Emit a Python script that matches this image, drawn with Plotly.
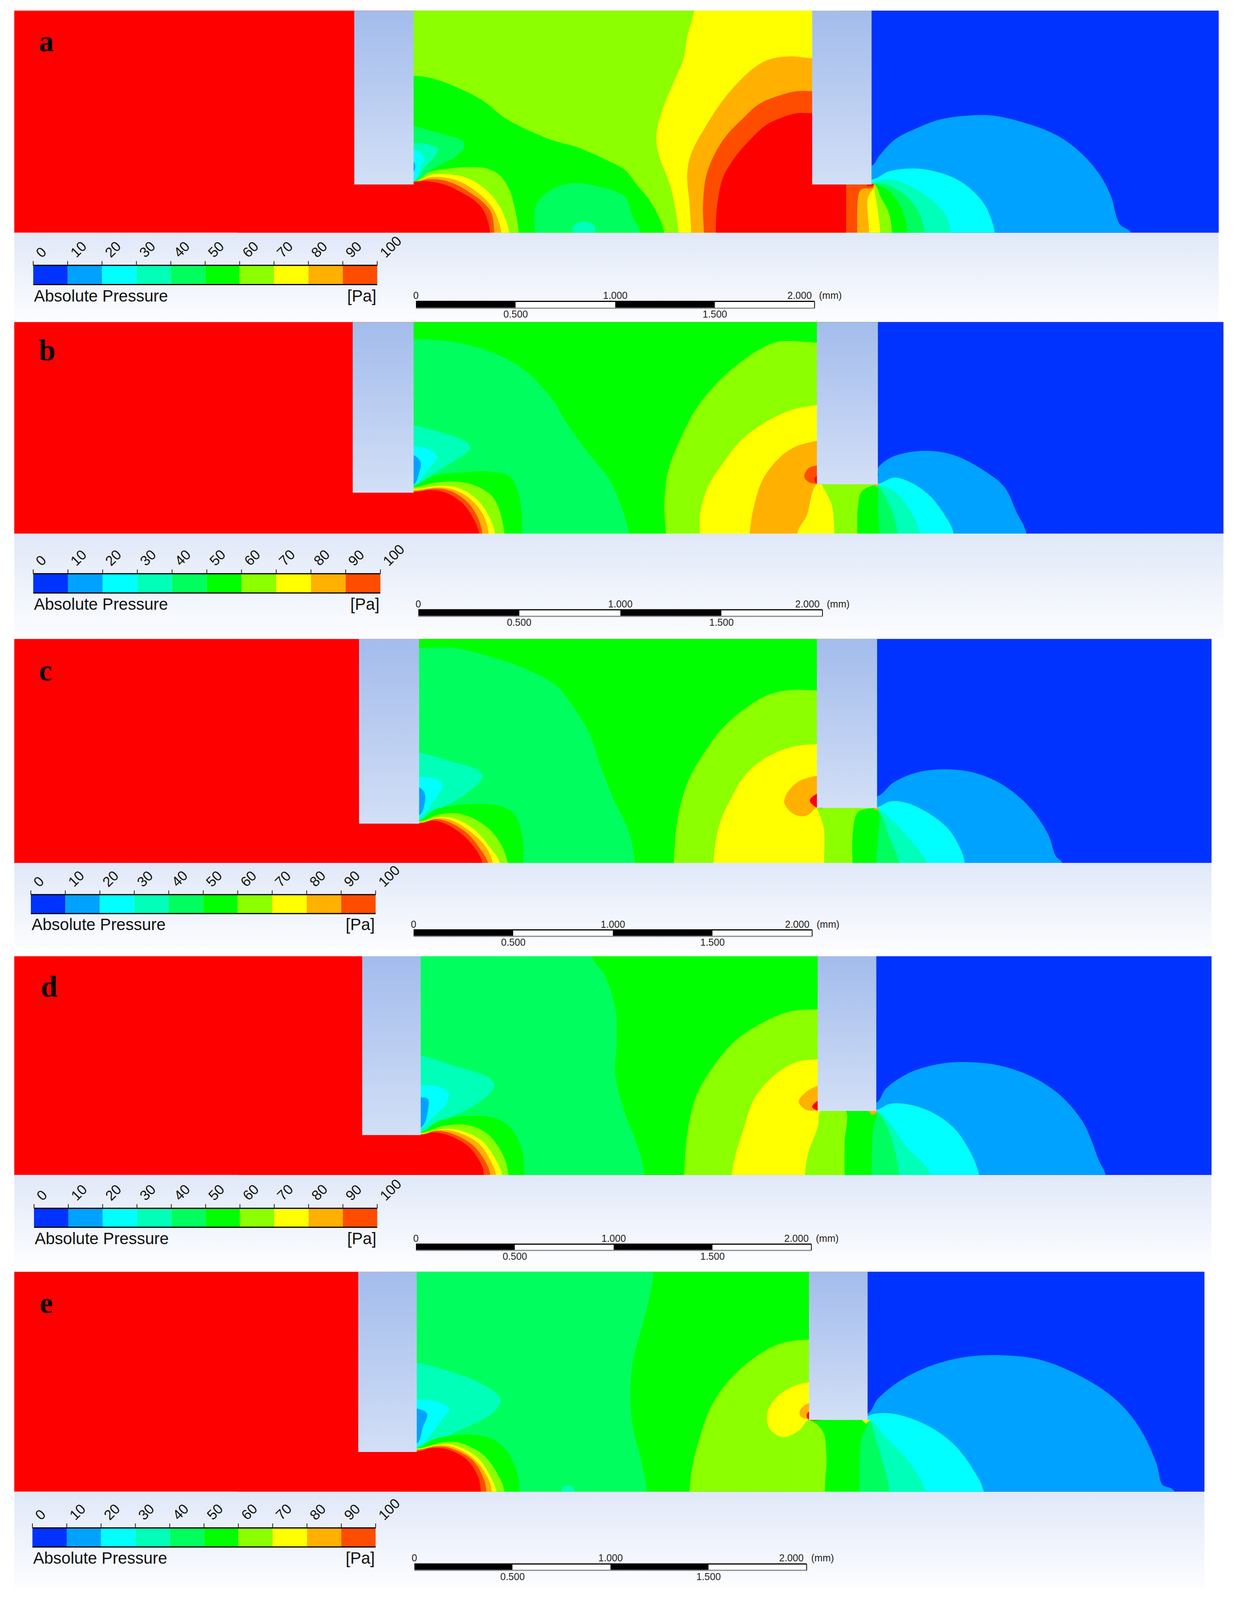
import plotly.graph_objects as go

# The browser window is capped at 3175x4096, so the 5731-tall sheet is fitted to that height.
W, H, REF_H = 3175, 4096, 5731
CROP = 1568
BAND_COLORS = ["#0033ff", "#00a2ff", "#00ffff", "#00ffb8", "#00ff5e", "#00ff00",
               "#8cff00", "#ffff00", "#ffb000", "#ff4d00", "#ff0000"]
TICK_LABELS = ["0", "10", "20", "30", "40", "50", "60", "70", "80", "90", "100"]
PANEL_LETTERS = ["a", "b", "c", "d", "e"]


def close(curve, x):
    """Region between a boundary curve and a vertical line x (hidden or overpainted)."""
    y0 = curve[0][1]
    xe = curve[-1][0]
    tail = [(x, y) for y in (1300, 1150, 1000, 850, 700, 550, 400, 250, 100) if y > y0 + 60]
    return [(x, y0)] + curve + [(xe, 1300), (xe, 1500), (x, 1500)] + tail


def wall(curve, x):
    return [(x, curve[0][1])] + curve + [(x, curve[-1][1])]


def foot(curve):
    return [(curve[0][0], 1500)] + curve + [(curve[-1][0], 1500)]


LAYERS_A = [
    (1, close([(1102,810),(1112,760),(1132,680),(1157,630),(1187,585),(1222,565),(1256,565),(1296,600),(1336,660),(1365,740),(1390,850),(1405,960),(1412,1060),(1417,1100),(1430,1136)],1060)),
    (2, close([(1103,877),(1124,837),(1149,823),(1169,827),(1198,855),(1220,900),(1240,973),(1249,1028),(1258,1137)],1060)),
    (3, close([(1103,891),(1118,875),(1141,891),(1165,941),(1185,1000),(1197,1059),(1202,1137)],1060)),
    (4, close([(1104,895),(1119,900),(1137,932),(1152,982),(1164,1055),(1169,1137)],1060)),
    (5, close([(1104,897),(1124,932),(1136,991),(1144,1059),(1147,1137)],1060)),
    (6, close([(1105,898),(1114,964),(1124,1041),(1128,1137)],1060)),
    (7, close([(1105,900),(1106,937),(1109,1000),(1113,1137)],1060)),
    (8, close([(1106,905),(1100,946),(1097,973),(1099,1137)],1060)),
    (9, close([(1105,900),(1103,918),(1090,923),(1086,946),(1084,1023),(1084,1137)],1060)),
    (7, close([(885,-100),(878,52),(869,180),(864,290),(852,400),(840,510),(832,610),(830,690),(835,780),(847,900),(854,1020),(858,1136)],1060)),
    (8, close([(1027,285),(998,275),(973,290),(954,330),(934,400),(914,490),(892,620),(874,750),(869,850),(872,1000),(874,1136)],1060)),
    (9, close([(1027,445),(1008,445),(983,470),(959,510),(939,580),(919,660),(904,750),(893,860),(889,1000),(890,1136)],1060)),
    (10, close([(1027,553),(1008,553),(988,575),(969,610),(949,680),(929,770),(914,870),(907,1000),(905,1136)],1070)),
    (10, [(1097,901),(1105,901),(1103,910),(1096,908)]),
    (5, close([(523,370),(544,380),(580,430),(610,490),(640,580),(695,680),(731,720),(766,780),(790,830),(805,900),(825,1000),(840,1136)],500)),
    (4, foot([(676,1136),(678,1000),(696,930),(721,895),(756,910),(790,960),(800,1060),(810,1136)])),
    (3, foot([(724,1136),(726,1100),(738,1082),(751,1100),(753,1136)])),
    (4, wall([(523,616),(543,637),(568,664),(586,691),(586,728),(573,773),(551,818),(523,889)],500)),
    (3, wall([(523,698),(543,705),(554,728),(551,760),(537,818),(523,889)],500)),
    (2, wall([(523,732),(532,746),(536,773),(532,818),(523,889)],500)),
    (1, wall([(523,791),(525,814),(523,837)],500)),
    (6, close([(525,887),(543,841),(568,823),(593,816),(616,823),(630,850),(642,909),(650,1000),(656,1137)],500)),
    (7, close([(526,888),(543,855),(576,855),(593,873),(609,909),(622,955),(634,1023),(644,1137)],500)),
    (8, close([(527,887),(543,866),(568,871),(584,891),(601,932),(616,982),(626,1037),(634,1137)],500)),
    (9, close([(528,884),(543,875),(560,880),(576,900),(593,937),(609,982),(621,1037),(625,1137)],500)),
    (10, close([(440,870),(525,889),(537,884),(551,891),(568,909),(584,941),(601,982),(612,1032),(620,1137)],300)),
]

LAYERS_B = [
    (1, close([(1110,760),(1110,720),(1125,670),(1150,640),(1180,635),(1210,660),(1240,720),(1270,810),(1285,930),(1298,1038)],1060)),
    (2, close([(1110,795),(1130,765),(1150,785),(1175,850),(1195,950),(1206,1038)],1060)),
    (3, close([(1110,800),(1130,830),(1150,920),(1163,1038)],1060)),
    (4, close([(1108,805),(1125,900),(1135,1038)],1060)),
    (5, close([(1108,810),(1110,900),(1112,1038)],1060)),
    (4, close([(523,90),(550,92),(590,115),(630,165),(660,230),(680,300),(700,390),(715,490),(745,650),(770,770),(785,900),(795,1038)],500)),
    (3, wall([(523,510),(555,540),(590,590),(595,620),(580,670),(555,730),(523,805)],500)),
    (2, wall([(523,610),(545,630),(553,665),(540,730),(523,805)],500)),
    (1, wall([(523,655),(532,690),(530,740),(523,800)],500)),
    (6, close([(1033,105),(985,100),(960,140),(930,220),(905,310),(880,430),(860,580),(845,730),(840,900),(842,1038)],1060)),
    (6, close([(1110,790),(1090,830),(1085,900),(1084,1038)],1020)),
    (7, [(1033,410),(1000,435),(965,500),(935,590),(915,690),(895,810),(885,950),(885,1038),(885,1500),(1055,1500),(1055,1038),(1052,900),(1045,840),(1040,790),(1060,780),(1060,410)]),
    (8, [(1033,585),(1005,615),(985,670),(965,770),(955,880),(948,1038),(948,1500),(1008,1500),(1008,1038),(1020,950),(1033,795),(1060,780),(1060,585)]),
    (9, wall([(1033,705),(1022,720),(1017,760),(1022,785),(1033,795)],1045)),
    (10, wall([(1033,755),(1030,770),(1031,785),(1033,795)],1045)),
    (8, [(1105,796),(1112,796),(1109,806),(1106,806)]),
    (5, close([(523,805),(545,760),(580,740),(620,735),(645,760),(655,830),(660,950),(660,1038)],500)),
    (6, close([(525,812),(550,790),(580,785),(605,810),(625,870),(638,1038)],500)),
    (7, close([(525,820),(555,805),(580,815),(600,860),(615,930),(626,1038)],500)),
    (8, close([(525,825),(555,812),(575,825),(595,870),(610,940),(618,1038)],500)),
    (9, close([(525,830),(553,818),(570,830),(590,880),(603,950),(610,1038)],500)),
    (10, close([(440,810),(523,835),(545,825),(565,840),(585,890),(598,960),(606,1038)],300)),
]

LAYERS_C = [
    (1, close([(1109,795),(1130,725),(1160,675),(1195,660),(1230,675),(1265,730),(1300,840),(1325,980),(1335,1090),(1343,1125)],1060)),
    (2, close([(1109,848),(1125,820),(1145,825),(1175,880),(1200,960),(1215,1060),(1220,1125)],1060)),
    (3, close([(1108,855),(1130,920),(1155,1030),(1172,1125)],1060)),
    (4, close([(1108,860),(1125,1000),(1137,1125)],1060)),
    (5, close([(1109,860),(1110,1000),(1108,1125)],1060)),
    (4, close([(530,57),(575,57),(620,100),(670,170),(705,250),(725,350),(745,480),(760,650),(775,800),(795,970),(803,1125)],500)),
    (3, wall([(530,578),(570,620),(605,665),(610,700),(590,780),(560,850),(530,915)],500)),
    (2, wall([(530,697),(550,705),(560,740),(550,810),(530,900)],500)),
    (1, wall([(530,750),(537,780),(537,830),(530,890)],500)),
    (6, close([(1033,268),(1005,265),(975,285),(945,350),(915,450),(890,580),(870,720),(858,880),(852,1125)],1060)),
    (6, close([(1109,850),(1085,872),(1078,1000),(1078,1125)],1020)),
    (7, [(1033,535),(1000,550),(965,610),(940,700),(925,800),(910,930),(902,1125),(902,1500),(1042,1500),(1042,1125),(1042,960),(1036,880),(1033,850),(1060,835),(1060,535)]),
    (8, wall([(1033,692),(1010,720),(995,780),(992,830),(1005,885),(1020,890),(1033,850)],1045)),
    (10, wall([(1033,782),(1024,815),(1033,850)],1045)),
    (8, [(1105,851),(1112,851),(1110,862),(1106,862)]),
    (5, close([(530,915),(550,860),(590,835),(630,840),(650,880),(660,980),(662,1125)],500)),
    (6, close([(532,918),(555,885),(580,880),(610,930),(630,1010),(642,1125)],500)),
    (7, close([(535,920),(555,898),(575,905),(600,960),(620,1050),(632,1125)],500)),
    (8, close([(535,922),(553,903),(570,912),(595,970),(615,1050),(623,1125)],500)),
    (9, close([(535,924),(550,908),(565,918),(590,975),(608,1060),(617,1125)],500)),
    (10, close([(440,900),(530,930),(545,915),(560,925),(585,985),(602,1060),(610,1125)],300)),
]

LAYERS_D = [
    (1, close([(1108,750),(1120,680),(1150,600),(1190,555),(1225,547),(1265,565),(1305,620),(1340,710),(1370,850),(1390,1040),(1398,1108)],1060)),
    (2, close([(1108,785),(1125,755),(1145,755),(1175,790),(1205,870),(1225,980),(1238,1108)],1060)),
    (3, close([(1108,790),(1125,850),(1145,960),(1177,1108)],1060)),
    (4, close([(1108,795),(1125,900),(1137,1108)],1060)),
    (5, close([(1108,790),(1104,880),(1102,1108)],1060)),
    (8, [(1098,789),(1110,789),(1106,808),(1102,808)]),
    (4, close([(745,-100),(748,21),(765,120),(778,280),(780,450),(778,600),(790,800),(805,950),(815,1108)],500)),
    (3, wall([(532,515),(570,560),(620,630),(625,670),(605,750),(565,830),(532,895)],500)),
    (2, wall([(532,662),(555,670),(567,700),(565,750),(545,830),(532,880)],500)),
    (1, wall([(532,722),(541,730),(541,790),(533,870)],500)),
    (6, close([(1034,285),(1000,295),(965,350),(930,440),(900,580),(880,720),(870,880),(865,1108)],1060)),
    (6, close([(1068,780),(1068,950),(1068,1108)],1020)),
    (7, [(1034,532),(1005,550),(980,610),(955,720),(940,880),(925,1108),(925,1500),(1018,1500),(1018,1108),(1022,1000),(1034,870),(1038,788),(1060,775),(1060,532)]),
    (8, wall([(1034,665),(1018,700),(1010,745),(1020,785),(1034,788)],1045)),
    (10, wall([(1034,740),(1027,770),(1034,788)],1045)),
    (5, close([(532,895),(555,840),(590,815),(625,825),(645,870),(660,980),(663,1108)],500)),
    (6, close([(534,897),(560,865),(590,860),(615,900),(635,1000),(643,1108)],500)),
    (7, close([(536,900),(560,880),(580,885),(610,940),(628,1040),(635,1108)],500)),
    (8, close([(536,902),(555,885),(575,892),(605,950),(622,1050),(627,1108)],500)),
    (9, close([(536,905),(550,890),(570,900),(598,960),(615,1050),(620,1108)],500)),
    (10, close([(440,880),(532,910),(545,897),(565,908),(592,965),(608,1050),(612,1108)],300)),
]

LAYERS_E = [
    (1, close([(1097,690),(1110,620),(1140,530),(1180,460),(1225,420),(1275,415),(1320,440),(1370,520),(1410,620),(1440,750),(1462,920),(1470,1025),(1480,1040),(1485,1057)],1060)),
    (2, close([(1097,700),(1105,690),(1130,690),(1170,740),(1205,830),(1230,950),(1244,1057)],1060)),
    (3, close([(1100,720),(1120,800),(1150,920),(1170,1057)],1060)),
    (4, close([(1100,725),(1105,780),(1115,900),(1125,1057)],1060)),
    (4, close([(823,-100),(826,20),(820,160),(810,300),(800,450),(797,600),(800,750),(810,900),(818,1057)],500)),
    (3, wall([(527,450),(560,480),(610,550),(633,620),(625,680),(580,770),(527,850)],500)),
    (2, wall([(527,622),(550,630),(568,665),(560,710),(527,850)],500)),
    (1, wall([(527,665),(540,690),(535,750),(527,830)],500)),
    (3, foot([(710,1057),(712,1035),(718,1028),(725,1040),(727,1057)])),
    (6, close([(1023,340),(990,355),(960,410),(925,520),(900,650),(885,800),(875,950),(872,1057)],1060)),
    (5, close([(1097,715),(1090,800),(1087,900),(1087,1057)],1000)),
    (6, close([(1023,719),(1040,770),(1045,880),(1043,1057)],1000)),
    (7, wall([(1023,540),(1000,565),(980,620),(970,690),(973,760),(990,800),(1010,770),(1023,717)],1045)),
    (8, wall([(1023,640),(1012,670),(1012,700),(1023,717)],1045)),
    (10, wall([(1023,680),(1020,700),(1023,717)],1045)),
    (7, [(1090,719),(1100,719),(1096,735),(1094,735)]),
    (5, close([(527,850),(550,808),(590,788),(620,805),(640,860),(655,980),(657,1057)],500)),
    (6, close([(529,852),(560,825),(580,825),(610,880),(630,980),(638,1057)],500)),
    (7, close([(530,855),(555,835),(575,838),(605,900),(622,1000),(628,1057)],500)),
    (8, close([(530,857),(552,840),(572,845),(600,905),(618,1000),(622,1057)],500)),
    (9, close([(530,860),(550,845),(568,850),(598,910),(612,1000),(615,1057)],500)),
    (10, close([(440,840),(527,868),(545,852),(565,857),(590,905),(605,990),(608,1057)],300)),
]

ALL_LAYERS = [LAYERS_A, LAYERS_B, LAYERS_C, LAYERS_D, LAYERS_E]
MIDDLE_BAND = [6, 5, 5, 5, 5]
CROP_Y0 = [0, 1150, 2280, 3410, 4540]
CROP_H = [1150, 1150, 1130, 1130, 1191]
PLOT_L = [18, 18, 18, 18, 18]
PLOT_R = [1541, 1547, 1532, 1532, 1523]
PLOT_T = [52, 5, 12, 21, 20]
PLOT_B = [1136, 1038, 1125, 1108, 1057]
BAFFLE1_X = [(448, 523), (446, 523), (454, 530), (458, 532), (453, 527)]
BAFFLE1_B = [901, 838, 930, 910, 870]
BAFFLE2_X = [(1027, 1102), (1033, 1110), (1033, 1109), (1034, 1108), (1023, 1097)]
BAFFLE2_B = [901, 797, 852, 790, 719]
STRIP_END = [1568, 1552, 1555, 1550, 1510]
LETTER_POS = [(59, 200), (60, 142), (58, 167), (62, 170), (59, 167)]
CBAR_X = [(42, 477), (42, 481), (39, 475), (43, 477), (41, 475)]
CBAR_Y = [(1296, 1390), (1234, 1328), (1283, 1377), (1274, 1368), (1228, 1318)]
CBAR_TEXT_Y = [1445, 1382, 1431, 1423, 1370]
SCALE_X = [(526, 1030), (529, 1040), (523, 1027), (526, 1026), (524, 1020)]
SCALE_Y = [(1472, 1505), (1410, 1442), (1458, 1490), (1452, 1483), (1398, 1428)]
SCALE_TOP = ["0", "1.000", "2.000"]
SCALE_BOTTOM = ["0.500", "1.500"]

fig = go.Figure()
layout_axes = {}
annotations = []


def poly(pts, band_color, ax, ay, gradient=None):
    xs = [p[0] for p in pts]
    ys = [p[1] for p in pts]
    kw = {}
    if gradient:
        kw["fillgradient"] = gradient
    else:
        kw["fillcolor"] = band_color
    shape = "linear" if len(pts) <= 4 else "spline"
    fig.add_trace(go.Scatter(x=xs, y=ys, mode="lines", fill="toself", xaxis=ax, yaxis=ay,
                             line=dict(width=0, shape=shape, color=band_color or "rgba(0,0,0,0)"),
                             hoverinfo="skip", showlegend=False, **kw))


def seg(x, y, color, width, ax, ay):
    fig.add_trace(go.Scatter(x=x, y=y, mode="lines", xaxis=ax, yaxis=ay,
                             line=dict(color=color, width=width),
                             hoverinfo="skip", showlegend=False))


def rect(x0, x1, y0, y1):
    return [(x0, y0), (x1, y0), (x1, y1), (x0, y1)]


def grad(c0, c1, y0, y1):
    return dict(type="vertical", colorscale=[[0, c0], [1, c1]], start=y0, stop=y1)


for i in range(5):
    y0r, hr = CROP_Y0[i], CROP_H[i]
    fx = W / CROP
    fy = hr / CROP
    to_dom_y = lambda c: 1 - (y0r + c * fy) / REF_H
    n1 = 2 * i + 1
    n2 = 2 * i + 2
    ax1, ay1 = f"x{n1}", f"y{n1}"
    ax2, ay2 = f"x{n2}", f"y{n2}"
    layout_axes[f"xaxis{n1}"] = dict(domain=[0, 1], range=[0, CROP], visible=False, fixedrange=True, anchor=ay1)
    layout_axes[f"yaxis{n1}"] = dict(domain=[to_dom_y(CROP), to_dom_y(0)], range=[CROP, 0], visible=False, fixedrange=True, anchor=ax1)
    L, R, T, B = PLOT_L[i], PLOT_R[i], PLOT_T[i], PLOT_B[i]
    layout_axes[f"xaxis{n2}"] = dict(domain=[L * fx / W, R * fx / W], range=[L, R], visible=False, fixedrange=True, anchor=ay2)
    layout_axes[f"yaxis{n2}"] = dict(domain=[to_dom_y(B), to_dom_y(T)], range=[B, T], visible=False, fixedrange=True, anchor=ax2)

    poly(rect(L, R, B, STRIP_END[i]), None, ax1, ay1,
         grad("#e0e8f8", "#fcfdff", B, STRIP_END[i]))

    cx0, cx1 = CBAR_X[i]
    cy0, cy1 = CBAR_Y[i]
    step = (cx1 - cx0) / 10
    for k in range(10):
        poly(rect(cx0 + k * step, cx0 + (k + 1) * step, cy0, cy1), BAND_COLORS[k], ax1, ay1)
    seg([cx0, cx1], [cy0, cy0], "#000000", 3, ax1, ay1)
    seg([cx0, cx1], [cy1, cy1], "#000000", 3, ax1, ay1)
    for k, lab in enumerate(TICK_LABELS):
        tx = cx0 + k * step
        seg([tx, tx], [cy0 - 21, cy0], "#222222", 2, ax1, ay1)
        annotations.append(dict(x=tx - 2, y=cy0 - 18, xref=ax1, yref=ay1, text=lab, showarrow=False,
                                textangle=-45, xanchor="left", yanchor="bottom",
                                font=dict(family="Liberation Sans", size=36, color="#111111")))
    annotations.append(dict(x=cx0, y=CBAR_TEXT_Y[i], xref=ax1, yref=ay1, text="Absolute Pressure",
                            showarrow=False, xanchor="left", yanchor="middle",
                            font=dict(family="Liberation Sans", size=42, color="#111111")))
    annotations.append(dict(x=cx1, y=CBAR_TEXT_Y[i], xref=ax1, yref=ay1, text="[Pa]",
                            showarrow=False, xanchor="right", yanchor="middle",
                            font=dict(family="Liberation Sans", size=42, color="#111111")))

    sx0, sx1 = SCALE_X[i]
    sy0, sy1 = SCALE_Y[i]
    sstep = (sx1 - sx0) / 4
    for k in range(4):
        poly(rect(sx0 + k * sstep, sx0 + (k + 1) * sstep, sy0, sy1),
             "#000000" if k % 2 == 0 else "#ffffff", ax1, ay1)
    seg([sx0, sx1], [sy0, sy0], "#000000", 3, ax1, ay1)
    seg([sx0, sx1], [sy1, sy1], "#8a8a8a", 3, ax1, ay1)
    seg([sx1, sx1], [sy0, sy1], "#000000", 2, ax1, ay1)
    small = dict(family="Liberation Sans", size=25, color="#222222")
    annotations.append(dict(x=sx0, y=sy0 - 29, xref=ax1, yref=ay1, text=SCALE_TOP[0], showarrow=False, font=small))
    annotations.append(dict(x=(sx0 + sx1) / 2, y=sy0 - 29, xref=ax1, yref=ay1, text=SCALE_TOP[1], showarrow=False, font=small))
    annotations.append(dict(x=sx1 - 19, y=sy0 - 29, xref=ax1, yref=ay1, text=SCALE_TOP[2], showarrow=False, font=small))
    annotations.append(dict(x=sx1 + 20, y=sy0 - 29, xref=ax1, yref=ay1, text="(mm)", showarrow=False, font=small))
    annotations.append(dict(x=sx0 + sstep, y=sy1 + 29, xref=ax1, yref=ay1, text=SCALE_BOTTOM[0], showarrow=False, font=small))
    annotations.append(dict(x=sx0 + 3 * sstep, y=sy1 + 29, xref=ax1, yref=ay1, text=SCALE_BOTTOM[1], showarrow=False, font=small))

    b1l, b1r = BAFFLE1_X[i]
    b2l, b2r = BAFFLE2_X[i]
    poly(rect(0, 1600, -100, 1500), BAND_COLORS[10], ax2, ay2)
    poly(rect(b2r, 1600, -100, 1500), BAND_COLORS[0], ax2, ay2)
    poly(rect(b1r, b2r, -100, 1500), BAND_COLORS[MIDDLE_BAND[i]], ax2, ay2)
    for band, pts in ALL_LAYERS[i]:
        poly(pts, BAND_COLORS[band], ax2, ay2)
    poly(rect(b1l, b1r, T, BAFFLE1_B[i]), None, ax2, ay2, grad("#a3bcec", "#d2dff6", T, BAFFLE1_B[i]))
    poly(rect(b2l, b2r, T, BAFFLE2_B[i]), None, ax2, ay2, grad("#a3bcec", "#d2dff6", T, BAFFLE2_B[i]))

    annotations.append(dict(x=LETTER_POS[i][0], y=LETTER_POS[i][1], xref=ax2, yref=ay2,
                            text=PANEL_LETTERS[i], showarrow=False,
                            font=dict(family="Liberation Serif", size=76, color="#000000", weight="bold")))

fig.update_layout(width=W, height=H, margin=dict(l=0, r=0, t=0, b=0), autosize=False,
                  paper_bgcolor="#ffffff", plot_bgcolor="rgba(0,0,0,0)", showlegend=False,
                  annotations=annotations, **layout_axes)
fig.write_html("out.html", config={"displayModeBar": False},
               post_script="document.body.style.margin='0';")
